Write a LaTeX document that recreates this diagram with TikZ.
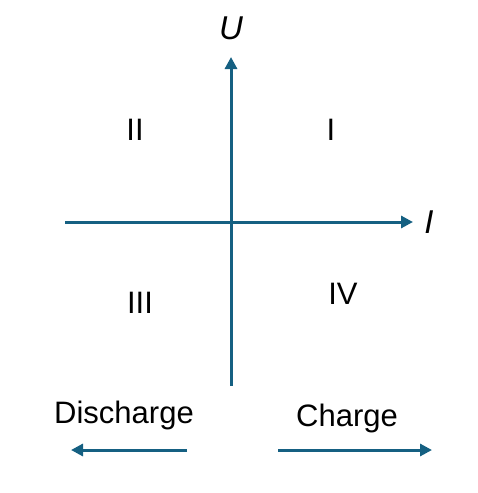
\documentclass[tikz,border=0pt]{standalone}
\usepackage{fontspec}
\setmainfont{Liberation Sans}
\usetikzlibrary{arrows.meta}
\definecolor{axisblue}{HTML}{156082}
\tikzset{
  axis/.style={draw=axisblue, line width=3pt, -{Triangle[length=12pt,width=12pt]}},
  lbl/.style={inner sep=0pt, font=\fontsize{31}{33}\selectfont},
  qlbl/.style={inner sep=0pt, font=\fontsize{33}{35}\selectfont}
}
\begin{document}
\begin{tikzpicture}[x=1pt, y=-1pt]
        \useasboundingbox (0,0) rectangle (477,493);

        \coordinate (yb) at (231,386);
        \coordinate (yt) at (231,57);
        \coordinate (xl) at (65,222);
        \coordinate (xr) at (413,222);

        \draw[axis] (yb) -- (yt);
        \draw[axis] (xl) -- (xr);

        \node[qlbl] (U) at (231,28) {\itshape U};
        \node[qlbl] (I) at (429,222) {\itshape I};

        \node[lbl] (q2) at (135,130) {II};
        \node[lbl] (q1) at (331,130) {I};
        \node[lbl] (q3) at (140,303) {III};
        \node[lbl] (q4) at (343,294) {IV};

        \node[lbl] (dis) at (124,415) {Discharge};
        \node[lbl] (chg) at (347,418) {Charge};

        \coordinate (d1) at (187,450);
        \coordinate (d2) at (71,450);
        \coordinate (c1) at (278,450);
        \coordinate (c2) at (432,450);

        \draw[axis] (d1) -- (d2);
        \draw[axis] (c1) -- (c2);
\end{tikzpicture}
\end{document}
